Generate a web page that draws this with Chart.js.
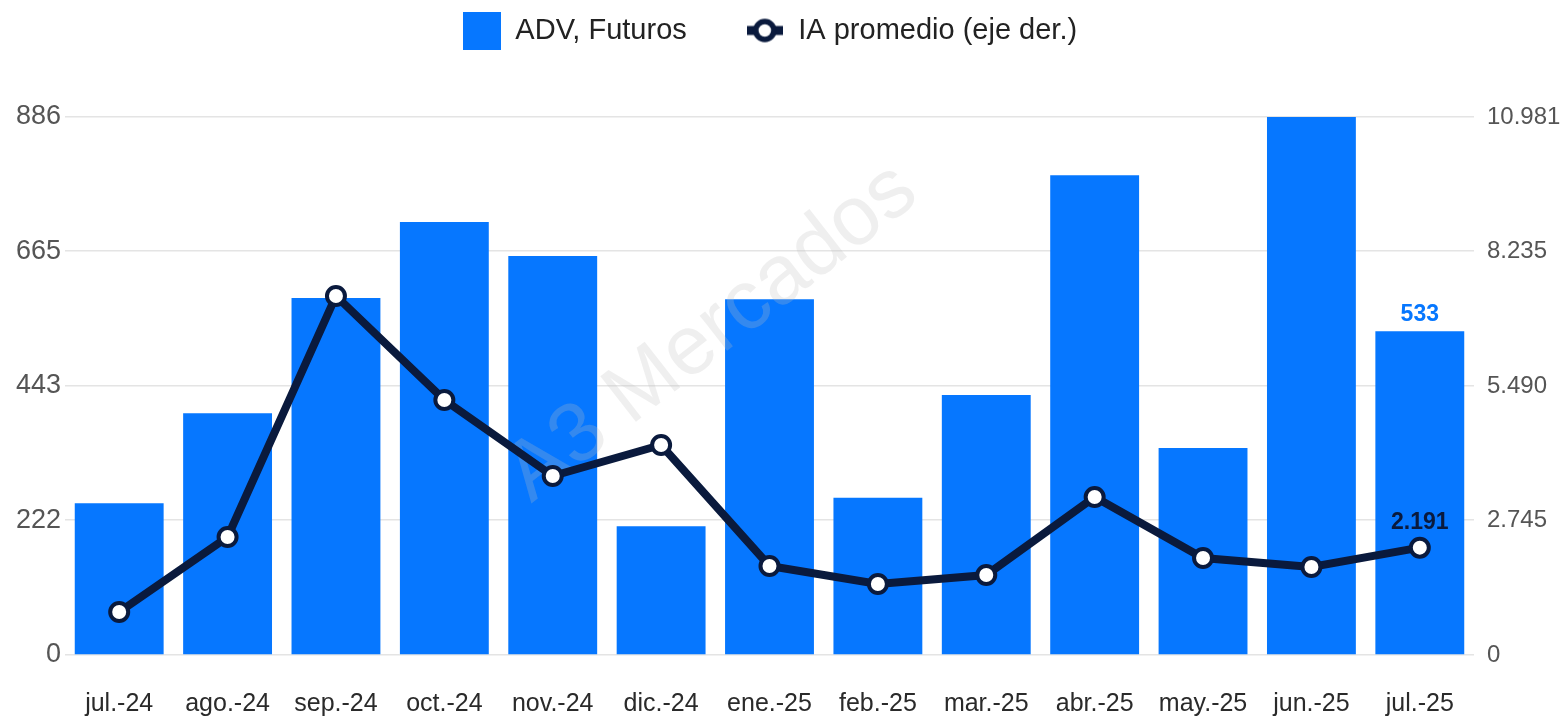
<!DOCTYPE html>
<html>
<head>
<meta charset="utf-8">
<script src="https://cdn.jsdelivr.net/npm/chart.js@4"></script>
<style>
  html, body { margin: 0; padding: 0; background: #fff; }
  canvas { display: block; }
</style>
</head>
<body>
<canvas id="chart" width="1566" height="717"></canvas>
<script>
const months = ["jul.-24", "ago.-24", "sep.-24", "oct.-24", "nov.-24", "dic.-24", "ene.-25",
                "feb.-25", "mar.-25", "abr.-25", "may.-25", "jun.-25", "jul.-25"];
const advFuturos = [250, 398, 588, 713, 657, 212, 586, 259, 428, 790, 341, 886, 533];
const iaPromedio = [878, 2409, 7328, 5205, 3654, 4287, 1817, 1449, 1633, 3225, 1980, 1796, 2191];
const leftTicks = [0, 222, 443, 665, 886];
const rightTicks = [0, 2745, 5490, 8235, 10981];

const barBlue = "#0677ff";
const lineNavy = "#0a1a3d";
const fontFam = "'Liberation Sans', Arial, sans-serif";

// dots as thousands separator, like the source
function fmt(v) {
    return String(Math.round(v)).replace(/\B(?=(\d{3})+(?!\d))/g, ".");
}

// legend icons
const barIcon = document.createElement("canvas");
barIcon.width = 38; barIcon.height = 38;
let ic = barIcon.getContext("2d");
ic.fillStyle = barBlue;
ic.fillRect(0, 0, 38, 38);

const lineIcon = document.createElement("canvas");
lineIcon.width = 36; lineIcon.height = 30;
ic = lineIcon.getContext("2d");
ic.strokeStyle = lineNavy;
ic.lineWidth = 9;
ic.beginPath(); ic.moveTo(0, 15); ic.lineTo(36, 15); ic.stroke();
ic.fillStyle = "#fff";
ic.lineWidth = 5.5;
ic.beginPath(); ic.arc(18, 15, 9, 0, Math.PI * 2); ic.fill(); ic.stroke();

// watermark goes over the bars but under the line
const watermark = {
    id: "watermark",
    beforeDatasetDraw(chart, args) {
        if (args.index !== 0) return;
        const c = chart.ctx;
        c.save();
        c.translate(712, 333);
        c.rotate(-38 * Math.PI / 180);
        c.font = "84px " + fontFam;
        c.fillStyle = "rgba(190,190,190,0.25)";
        c.textAlign = "center";
        c.textBaseline = "middle";
        c.fillText("A3 Mercados", 0, 0);
        c.restore();
    }
};

const lastLabels = {
    id: "lastLabels",
    afterDatasetsDraw(chart) {
        const c = chart.ctx;
        const last = months.length - 1;
        const pt = chart.getDatasetMeta(0).data[last];
        const bar = chart.getDatasetMeta(1).data[last];
        c.save();
        c.textAlign = "center";
        c.textBaseline = "bottom";
        c.font = "bold 23px " + fontFam;
        c.fillStyle = barBlue;
        c.fillText(fmt(advFuturos[last]), bar.x, bar.y - 5);
        c.fillStyle = lineNavy;
        c.fillText(fmt(iaPromedio[last]), pt.x, pt.y - 13);
        c.restore();
    }
};

// legend sits high up, plot starts well below it
const legendGap = {
    id: "legendGap",
    beforeInit(chart) {
        const origFit = chart.legend.fit;
        chart.legend.fit = function () {
            origFit.bind(chart.legend)();
            this.height = 117;
        };
    },
    afterLayout(chart) {
        const lg = chart.legend;
        lg.top -= 43; lg.bottom -= 43;
        lg.left -= 13; lg.right -= 13;
    }
};

new Chart(document.getElementById("chart"), {
    data: {
        labels: months,
        datasets: [
            {
                type: "line",
                label: "IA promedio (eje der.)",
                data: iaPromedio,
                yAxisID: "y2",
                borderColor: lineNavy,
                borderWidth: 8,
                pointRadius: 9,
                pointBorderWidth: 4,
                pointBackgroundColor: "#fff",
                pointBorderColor: lineNavy,
                tension: 0,
                order: 0
            },
            {
                type: "bar",
                label: "ADV, Futuros",
                data: advFuturos,
                yAxisID: "y",
                backgroundColor: barBlue,
                barPercentage: 0.82,
                categoryPercentage: 1,
                order: 1
            }
        ]
    },
    options: {
        responsive: false,
        animation: false,
        layout: { padding: 0 },
        plugins: {
            legend: {
                position: "top",
                reverse: true,
                labels: {
                    usePointStyle: true,
                    pointStyleWidth: 38,
                    font: { family: fontFam, size: 29 },
                    color: "#222",
                    padding: 59,
                    generateLabels(chart) {
                        const items = Chart.defaults.plugins.legend.labels.generateLabels(chart);
                        items.forEach(it => {
                            it.pointStyle = it.datasetIndex === 1 ? barIcon : lineIcon;
                        });
                        return items;
                    }
                }
            },
            tooltip: { enabled: false }
        },
        scales: {
            x: {
                afterFit(axis) { axis.height = 62; },
                grid: { display: false, drawTicks: false },
                border: { display: false },
                ticks: {
                    font: { family: fontFam, size: 25 },
                    color: "#2a2a2a",
                    padding: 34,
                    maxRotation: 0,
                    autoSkip: false
                }
            },
            y: {
                position: "left",
                min: 0,
                max: 886,
                afterBuildTicks(axis) { axis.ticks = leftTicks.map(v => ({ value: v })); },
                afterFit(axis) { axis.width = 65; },
                grid: { color: "#e4e4e4", drawTicks: false, lineWidth: 1.5 },
                border: { display: false },
                ticks: {
                    font: { family: fontFam, size: 27 },
                    color: "#555",
                    padding: 4,
                    callback: v => fmt(v)
                }
            },
            y2: {
                position: "right",
                min: 0,
                max: 10981,
                afterBuildTicks(axis) { axis.ticks = rightTicks.map(v => ({ value: v })); },
                afterFit(axis) { axis.width = 92; },
                grid: { display: false, drawTicks: false },
                border: { display: false },
                ticks: {
                    font: { family: fontFam, size: 24 },
                    color: "#555",
                    padding: 13,
                    callback: v => fmt(v)
                }
            }
        }
    },
    plugins: [watermark, lastLabels, legendGap]
});
</script>
</body>
</html>
